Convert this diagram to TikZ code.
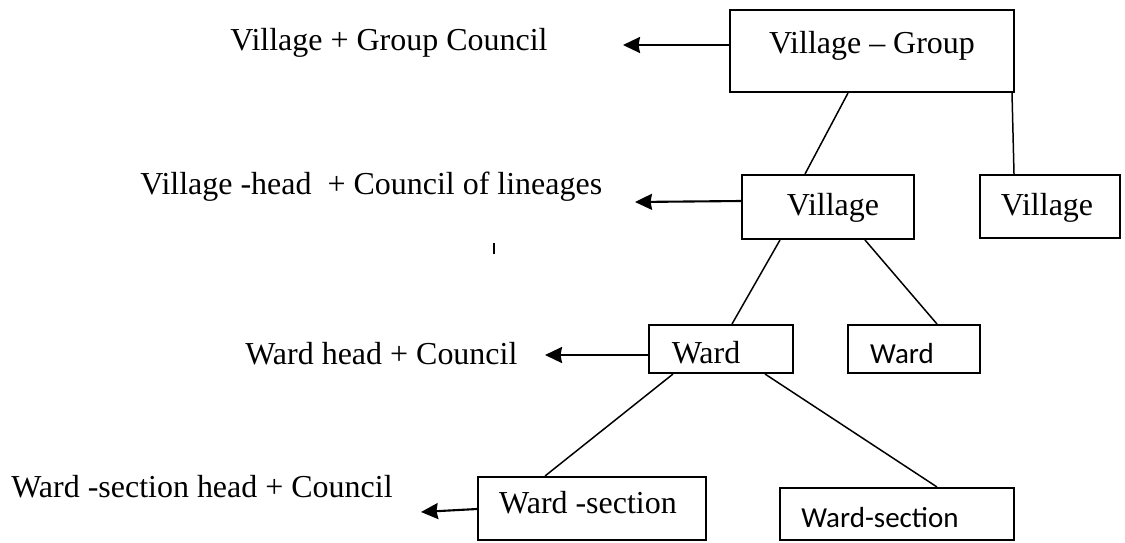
\documentclass[tikz,border=0pt]{standalone}
\usepackage{fontspec}
\setmainfont{Liberation Serif}
\newfontfamily\uisans{Carlito}
\usetikzlibrary{arrows.meta,fit}
\begin{document}
\begin{tikzpicture}[x=0.02cm,y=-0.02cm,
  box/.style={draw,line width=1.15pt,inner sep=0pt},
  lbl/.style={inner sep=0pt,anchor=base west,font=\fontsize{18.2}{21}\selectfont},
  boxtext/.style={inner sep=0pt,anchor=base,font=\fontsize{18.2}{21}\selectfont},
  sanstext/.style={inner sep=0pt,anchor=base,font=\uisans\fontsize{16.5}{20}\selectfont},
  link/.style={line width=0.85pt},
  arr/.style={line width=1.2pt,-{Stealth[length=0.34cm,width=0.32cm,inset=0.03cm]}}]
\useasboundingbox (0,0) rectangle (1125,542);

% boxes of the hierarchy
\node[box,fit={(730,10) (1014,92)}]   (vg)  {};
\node[box,fit={(742,175) (914,239)}]  (vil) {};
\node[box,fit={(980,175) (1120,238)}] (vil2) {};
\node[box,fit={(649,325) (793,373)}]  (wd)  {};
\node[box,fit={(848,325) (980,373)}]  (wd2) {};
\node[box,fit={(478,477) (706,540)}]  (ws)  {};
\node[box,fit={(780,488) (1014,540)}] (ws2) {};

% box captions
\node[boxtext]  (vgT)   at (872,53)  {Village – Group};
\node[boxtext]  (vilT)  at (833,215) {Village};
\node[boxtext]  (vil2T) at (1047,215) {Village};
\node[boxtext]  (wdT)   at (706,363) {Ward};
\node[sanstext] (wd2T)  at (902,363) {Ward};
\node[boxtext]  (wsT)   at (588,513) {Ward -section};
\node[sanstext] (ws2T)  at (880,527) {Ward-section};

% institutions on the left
\node[lbl] (c1) at (230,50)  {Village + Group Council};
\node[lbl] (c2) at (140,194) {Village -head\ \ + Council of lineages};
\node[lbl] (c3) at (245,364) {Ward head + Council};
\node[lbl] (c4) at (11,497)  {Ward -section head + Council};

% tree links
\draw[link] (vg.south -| 848,0)   -- (vil.north -| 805,0);
\draw[link] (vg.south -| 1012,0)  -- (vil2.north -| 1014,0);
\draw[link] (vil.south -| 780,0)  -- (wd.north -| 732,0);
\draw[link] (vil.south -| 865,0)  -- (wd2.north -| 937,0);
\draw[link] (wd.south -| 673,0)   -- (ws.north -| 545,0);
\draw[link] (wd.south -| 765,0)   -- (ws2.north -| 937,0);

% arrows pointing to the councils
\coordinate (t1) at (623,45);
\coordinate (t2) at (635,202);
\coordinate (t3) at (545,355);
\coordinate (t4) at (421,512);
\draw[arr] (vg.west |- 0,45)   -- (t1);
\draw[arr] (vil.west |- 0,201) -- (t2);
\draw[arr] (wd.west |- 0,355)  -- (t3);
\draw[arr] (ws.west |- 0,509)  -- (t4);

% small stray tick
\coordinate (m1) at (494,243);
\coordinate (m2) at (494,254);
\draw[line width=0.85pt] (m1) -- (m2);
\end{tikzpicture}
\end{document}
